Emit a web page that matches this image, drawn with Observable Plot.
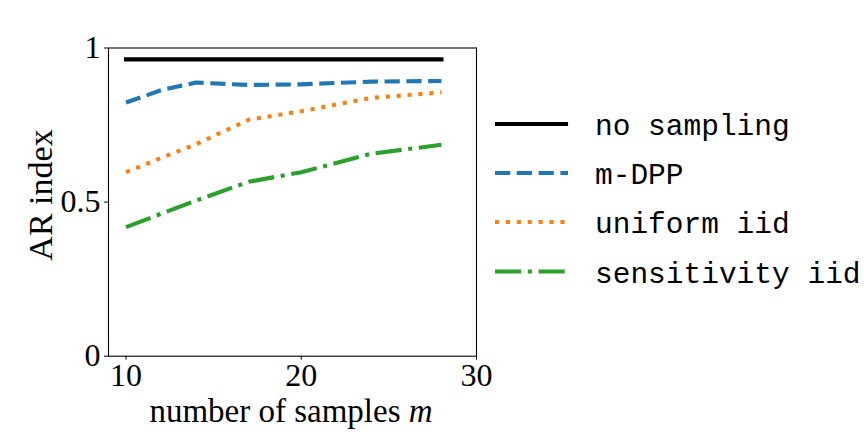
<!DOCTYPE html>
<html>
<head>
<meta charset="utf-8">
<script src="https://cdn.jsdelivr.net/npm/d3@7"></script>
<script src="https://cdn.jsdelivr.net/npm/@observablehq/plot@0.6"></script>
<style>
  html, body { margin: 0; padding: 0; background: #fff; }
  #chart { width: 864px; height: 432px; }
</style>
</head>
<body>
<div id="chart"></div>
<script>
// ---- data ----
const samples = [10, 12, 14, 17, 20, 24, 28];
const noSampling = [0.963, 0.963, 0.963, 0.963, 0.963, 0.963, 0.963];
const mDPP = [0.823, 0.863, 0.888, 0.880, 0.882, 0.891, 0.893];
const uniformIid = [0.597, 0.643, 0.688, 0.767, 0.795, 0.838, 0.856];
const sensitivityIid = [0.419, 0.462, 0.505, 0.566, 0.597, 0.657, 0.686];
const seriesNames = ["no sampling", "m-DPP", "uniform iid", "sensitivity iid"];
const seriesValues = [noSampling, mDPP, uniformIid, sensitivityIid];
const xTicks = [10, 20, 30];
const yTicks = [0, 0.5, 1];
const yTickLabels = ["0", "0.5", "1"];

// ---- styles ----
const LW = 4.1;
const styles = [
  {stroke: "#000000", dash: null, cap: "square"},
  {stroke: "#1f77b4", dash: "15.2,6.6", cap: "butt"},
  {stroke: "#ff7f0e", dash: "4.1,6.8", cap: "butt"},
  {stroke: "#2ca02c", dash: "26.2,6.6,4.1,6.6", cap: "butt"}
];

const rows = [];
seriesNames.forEach((name, i) => {
  samples.forEach((m, j) => rows.push({series: name, m, v: seriesValues[i][j]}));
});

const lineMarks = seriesNames.map((name, i) =>
  Plot.line(rows.filter(d => d.series === name), {
    x: "m", y: "v",
    stroke: styles[i].stroke,
    strokeWidth: LW,
    strokeDasharray: styles[i].dash,
    strokeLinecap: styles[i].cap,
    strokeLinejoin: "round"
  })
);

const plot = Plot.plot({
  width: 864,
  height: 432,
  marginLeft: 108,
  marginRight: 388,
  marginTop: 47.5,
  marginBottom: 76.3,
  style: {fontFamily: "'Liberation Serif', serif", background: "#fff", color: "#000"},
  x: {domain: [9, 30]},
  y: {domain: [0, 1]},
  marks: [
    ...lineMarks,
    Plot.frame({stroke: "#000", strokeWidth: 1.1}),
    Plot.axisX({ticks: xTicks, tickSize: 4, tickPadding: 3.5, fontSize: 32, label: null, tickFormat: d => String(d)}),
    Plot.axisY({ticks: yTicks, tickSize: 4, tickPadding: 4, fontSize: 32, label: null,
      tickFormat: d => yTickLabels[yTicks.indexOf(d)]})
  ]
});

document.getElementById("chart").appendChild(plot);

const svg = d3.select(plot);

// axis labels
svg.append("text")
  .attr("transform", "translate(52,195) rotate(-90)")
  .attr("text-anchor", "middle")
  .attr("font-family", "'Liberation Serif', serif")
  .attr("font-size", 34)
  .attr("fill", "#000")
  .text("AR index");

const xl = svg.append("text")
  .attr("x", 291).attr("y", 422)
  .attr("text-anchor", "middle")
  .attr("font-family", "'Liberation Serif', serif")
  .attr("font-size", 33)
  .attr("fill", "#000");
xl.append("tspan").text("number of samples ");
xl.append("tspan").attr("font-style", "italic").text("m");

// legend
const legendY = [124, 173, 222, 271.5];
const lg = svg.append("g");
seriesNames.forEach((name, i) => {
  const s = styles[i];
  lg.append("line")
    .attr("x1", s.cap === "square" ? 497 : 495).attr("x2", s.cap === "square" ? 566 : 568)
    .attr("y1", legendY[i]).attr("y2", legendY[i])
    .attr("stroke", s.stroke)
    .attr("stroke-width", LW)
    .attr("stroke-linecap", s.cap)
    .attr("stroke-dasharray", s.dash);
  lg.append("text")
    .attr("x", 595).attr("y", legendY[i] + 11)
    .attr("text-anchor", "start")
    .attr("font-family", "'Liberation Mono', monospace")
    .attr("font-size", 29.5)
    .attr("fill", "#000")
    .text(name);
});
</script>
</body>
</html>
